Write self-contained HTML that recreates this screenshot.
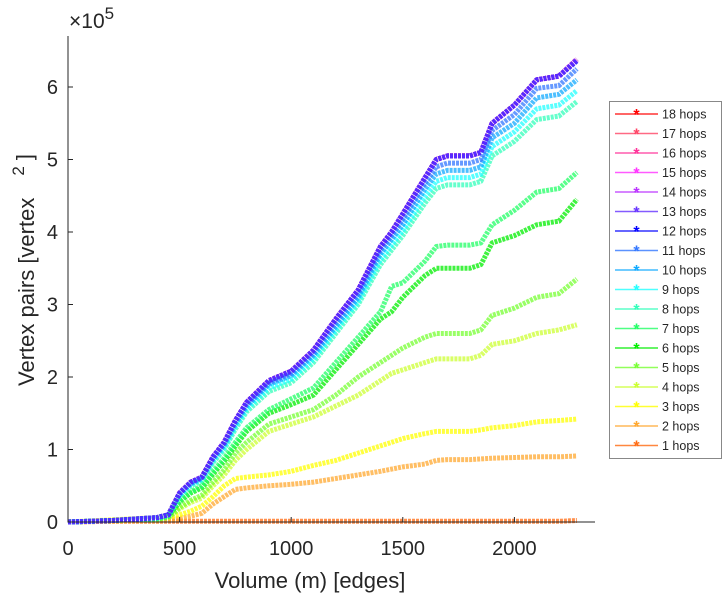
<!DOCTYPE html>
<html><head><meta charset="utf-8"><style>
body{margin:0;background:#fff;width:728px;height:600px;overflow:hidden}
svg{font-family:"Liberation Sans",sans-serif}
</style></head><body>
<svg id="chart" width="728" height="600" viewBox="0 0 728 600" xmlns="http://www.w3.org/2000/svg">
<g id="series"></g>
<g id="axes"></g>
<g id="legend"></g>
</svg>
<script>
const xVals=[0,200,400,450,500,550,600,650,700,750,800,900,1000,1100,1200,1300,1400,1450,1500,1600,1650,1700,1800,1850,1900,2000,2100,2200,2280];
const s1=[0,0.01,0.01,0.01,0.01,0.01,0.01,0.01,0.01,0.01,0.01,0.01,0.01,0.01,0.01,0.01,0.01,0.01,0.01,0.01,0.01,0.01,0.01,0.01,0.01,0.01,0.01,0.01,0.02];
const s2=[0,0.01,0.02,0.03,0.05,0.08,0.12,0.25,0.35,0.45,0.47,0.5,0.52,0.55,0.6,0.65,0.7,0.73,0.76,0.8,0.85,0.86,0.86,0.87,0.88,0.89,0.9,0.9,0.91];
const s3=[0,0.03,0.06,0.07,0.1,0.15,0.22,0.35,0.5,0.6,0.62,0.65,0.7,0.78,0.85,0.95,1.05,1.1,1.15,1.22,1.25,1.25,1.25,1.27,1.3,1.33,1.38,1.4,1.42];
const s4=[0,0.02,0.04,0.06,0.18,0.27,0.33,0.5,0.65,0.85,1.0,1.25,1.35,1.45,1.6,1.75,1.95,2.05,2.1,2.2,2.25,2.25,2.25,2.3,2.45,2.5,2.6,2.65,2.72];
const s5=[0,0.02,0.04,0.06,0.2,0.3,0.37,0.55,0.72,0.95,1.1,1.35,1.45,1.55,1.75,2.0,2.2,2.3,2.4,2.55,2.6,2.6,2.6,2.65,2.85,2.95,3.1,3.15,3.35];
const s6=[0,0.02,0.05,0.08,0.28,0.4,0.47,0.66,0.84,1.05,1.25,1.5,1.62,1.75,2.1,2.45,2.8,2.9,3.1,3.4,3.5,3.5,3.5,3.55,3.85,3.95,4.1,4.15,4.45];
const s7=[0,0.02,0.05,0.08,0.3,0.42,0.5,0.7,0.88,1.1,1.3,1.55,1.7,1.85,2.2,2.55,2.9,3.25,3.3,3.6,3.8,3.82,3.82,3.85,4.1,4.3,4.55,4.6,4.82];
const s8=[0,0.02,0.05,0.09,0.35,0.5,0.57,0.82,1.0,1.28,1.52,1.8,1.92,2.2,2.6,3.0,3.55,3.75,3.95,4.4,4.6,4.65,4.65,4.7,5.05,5.25,5.55,5.6,5.8];
const s9=[0,0.02,0.06,0.1,0.37,0.52,0.59,0.85,1.03,1.32,1.56,1.85,1.97,2.25,2.65,3.05,3.62,3.82,4.02,4.5,4.7,4.75,4.75,4.8,5.18,5.38,5.7,5.75,5.95];
const s10=[0,0.02,0.06,0.1,0.38,0.53,0.6,0.87,1.06,1.35,1.6,1.9,2.02,2.3,2.7,3.1,3.7,3.9,4.1,4.6,4.8,4.85,4.85,4.9,5.3,5.5,5.85,5.9,6.1];
const s11=[0,0.02,0.06,0.1,0.39,0.54,0.61,0.88,1.08,1.38,1.62,1.92,2.05,2.33,2.75,3.15,3.75,3.95,4.18,4.68,4.9,4.95,4.95,5.0,5.4,5.62,5.98,6.02,6.25];
const s12=[0,0.02,0.06,0.1,0.4,0.55,0.62,0.9,1.1,1.4,1.65,1.95,2.08,2.37,2.8,3.2,3.8,4.0,4.25,4.75,5.0,5.05,5.05,5.1,5.5,5.75,6.1,6.15,6.36];
const s13=[0,0.02,0.06,0.1,0.4,0.55,0.62,0.9,1.1,1.4,1.65,1.95,2.08,2.37,2.8,3.2,3.8,4.0,4.25,4.75,5.0,5.05,5.05,5.1,5.5,5.75,6.1,6.15,6.38];
const seriesVals=[s1,s2,s3,s4,s5,s6,s7,s8,s9,s10,s11,s12,s13,s13,s13,s13,s13,s13];
const seriesLabels=["1 hops","2 hops","3 hops","4 hops","5 hops","6 hops","7 hops","8 hops","9 hops","10 hops","11 hops","12 hops","13 hops","14 hops","15 hops","16 hops","17 hops","18 hops"];
const seriesColors=["#ff6a10","#ffa830","#ffff00","#ccff33","#77ff33","#00ee00","#22ff66","#33ffbb","#22ffff","#11aaff","#3377ff","#0000ff","#6633ff","#bb33ff","#ff33ff","#ff3399","#ff4466","#ff0000"];
const drawOrder=[17,16,15,14,13,0,1,2,3,4,5,6,7,8,9,10,11,12];
const xTicks=[0,500,1000,1500,2000];
const yTicks=[0,1,2,3,4,5,6];

const NS="http://www.w3.org/2000/svg";
const X0=68,PXX=0.2232,Y0=522,PXY=72.5;
function sx(v){return X0+v*PXX;}
function sy(v){return Y0-v*PXY;}
function mk(tag,attrs,parent){const e=document.createElementNS(NS,tag);for(const k in attrs)e.setAttribute(k,attrs[k]);parent.appendChild(e);return e;}
const gS=document.getElementById('series'),gA=document.getElementById('axes'),gL=document.getElementById('legend');

drawOrder.forEach(i=>{
  const vals=seriesVals[i];
  const d=vals.map((v,j)=>(j?'L':'M')+sx(xVals[j]).toFixed(1)+' '+sy(v).toFixed(1)).join(' ');
  const p=mk('path',{d:d,fill:'none',stroke:seriesColors[i],'stroke-width':5,'stroke-linejoin':'round','stroke-dasharray':'3 1',opacity:0.75},gS);
  
  
});

const ax=mk('path',{d:`M${X0} 36 V${Y0} H595`,fill:'none',stroke:'#262626','stroke-width':1},gA);


xTicks.forEach(t=>{
  mk('line',{x1:sx(t),x2:sx(t),y1:Y0,y2:Y0-5,stroke:'#262626'},gA);
  const tx=mk('text',{x:sx(t),y:Y0+33,'text-anchor':'middle','font-size':20,fill:'#262626'},gA);
  tx.textContent=t;
  
  
});
yTicks.forEach(t=>{
  mk('line',{x1:X0,x2:X0+5,y1:sy(t),y2:sy(t),stroke:'#262626'},gA);
  const tx=mk('text',{x:X0-10,y:sy(t)+7,'text-anchor':'end','font-size':20,fill:'#262626'},gA);
  tx.textContent=t;
  
  
});
const ex=mk('text',{x:69,y:28,'font-size':21,fill:'#262626'},gA);
ex.innerHTML='×10<tspan dy="-9" font-size="17">5</tspan>';


const xl=mk('text',{x:310,y:588,'text-anchor':'middle','font-size':22,fill:'#262626'},gA);
xl.textContent='Volume (m) [edges]';


const yl=mk('text',{x:0,y:0,'text-anchor':'middle','font-size':22,fill:'#262626',transform:'translate(34,270) rotate(-90)'},gA);
yl.innerHTML='Vertex pairs [vertex<tspan dx="22" dy="-10" font-size="17">2</tspan><tspan dx="6" dy="8">]</tspan>';



const box=mk('rect',{x:609.5,y:101.5,width:112,height:357,fill:'#fff',stroke:'#888'},gL);


for(let k=0;k<18;k++){
  const i=17-k,y=114+k*19.5;
  const g=mk('g',{},gL);
  
  
  mk('line',{x1:615,x2:658,y1:y,y2:y,stroke:seriesColors[i],'stroke-width':1.5,opacity:0.8},g);
  mk('text',{x:636.5,y:y+6,'text-anchor':'middle','font-size':16,fill:seriesColors[i],'font-weight':'bold'},g).textContent='*';
  const t=mk('text',{x:662,y:y+4.5,'font-size':12.5,fill:'#262626'},g);
  t.textContent=seriesLabels[i];
}
</script>
</body></html>
